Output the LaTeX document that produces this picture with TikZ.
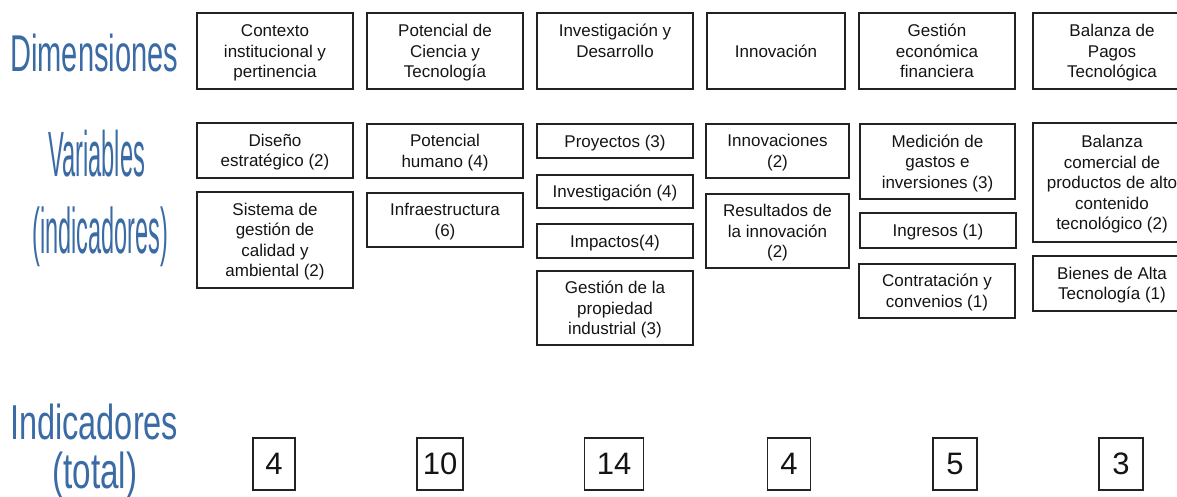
\documentclass[tikz,border=0pt]{standalone}
\usepackage{fontspec}
\setmainfont{Liberation Sans}
\usepackage{graphicx}
\definecolor{dimblue}{RGB}{58,107,165}
\definecolor{boxline}{RGB}{34,34,34}
\definecolor{boxtext}{RGB}{20,20,20}
\newcommand\cs{\rule[-4.25pt]{0pt}{20.5pt}}
\begin{document}
\begin{tikzpicture}[x=1pt,y=-1pt,
  cell/.style={draw=boxline, line width=1.3pt, inner sep=0pt, align=center,
    font=\fontsize{17}{20.5}\selectfont, text=boxtext},
  dim/.style={cell, minimum width=156pt, minimum height=76pt},
  tot/.style={draw=boxline, line width=1.3pt, inner sep=0pt, minimum height=52pt,
    font=\fontsize{31}{36}\selectfont, text=boxtext},
  lbl/.style={inner sep=0pt, text=dimblue}]
\clip (0,0) rectangle (1177,496);
% left labels
\node[lbl, anchor=south west] (ldim) at (10,72) {\resizebox*{168pt}{38pt}{Dimensiones}};
\node[lbl, anchor=south west] (lvar) at (48,177) {\resizebox*{97pt}{47pt}{Variables}};
\node[lbl, anchor=north west] (lind) at (32,207) {\resizebox*{136pt}{60pt}{(indicadores)}};
\node[lbl, anchor=south west] (ltot) at (10,440) {\resizebox*{168pt}{36pt}{Indicadores}};
\node[lbl, anchor=north west] (ltotal) at (52,452) {\resizebox*{85pt}{47pt}{(total)}};
% dimensions
\node[dim] (d1) at (275,51) {\cs Contexto\\institucional y\\pertinencia\cs};
\node[dim] (d2) at (445,51) {\cs Potencial de\\Ciencia y\\Tecnología\cs};
\node[dim] (d3) at (615,51) {\cs Investigación y\\Desarrollo\\\cs};
\node[dim, minimum width=138pt] (d4) at (776,51) {\cs Innovación\cs};
\node[dim] (d5) at (937,51) {\cs Gestión\\económica\\financiera\cs};
\node[dim, minimum width=158pt] (d6) at (1112,51) {\cs Balanza de\\Pagos\\Tecnológica\cs};
% variables
\node[cell, minimum width=156pt, minimum height=55pt] (v11) at (275,150.5) {\cs Diseño\\estratégico (2)\cs};
\node[cell, minimum width=156pt, minimum height=96pt] (v12) at (275,240) {\cs Sistema de\\gestión de\\calidad y\\ambiental (2)\cs};
\node[cell, minimum width=156pt, minimum height=54pt] (v21) at (445,151) {\cs Potencial\\humano (4)\cs};
\node[cell, minimum width=156pt, minimum height=54pt] (v22) at (445,220) {\cs Infraestructura\\(6)\cs};
\node[cell, minimum width=156pt, minimum height=34pt] (v31) at (615,141) {\cs Proyectos (3)\cs};
\node[cell, minimum width=156pt, minimum height=33pt] (v32) at (615,191.5) {\cs Investigación (4)\cs};
\node[cell, minimum width=156pt, minimum height=34pt] (v33) at (615,241) {\cs Impactos(4)\cs};
\node[cell, minimum width=156pt, minimum height=74pt] (v34) at (615,308) {\cs Gestión de la\\propiedad\\industrial (3)\cs};
\node[cell, minimum width=143pt, minimum height=54pt] (v41) at (777.5,151) {\cs Innovaciones\\(2)\cs};
\node[cell, minimum width=143pt, minimum height=74pt] (v42) at (777.5,231) {\cs Resultados de\\la innovación\\(2)\cs};
\node[cell, minimum width=155pt, minimum height=75pt] (v51) at (937.5,161.5) {\cs Medición de\\gastos e\\inversiones (3)\cs};
\node[cell, minimum width=156pt, minimum height=35pt] (v52) at (938,230.5) {\cs Ingresos (1)\cs};
\node[cell, minimum width=156pt, minimum height=54pt] (v53) at (937,291) {\cs Contratación y\\convenios (1)\cs};
\node[cell, minimum width=158pt, minimum height=119pt] (v61) at (1112,182.5) {\cs Balanza\\comercial de\\productos de alto\\contenido\\tecnológico (2)\cs};
\node[cell, minimum width=158pt, minimum height=55pt] (v62) at (1112,283.5) {\cs Bienes de Alta\\Tecnología (1)\cs};
% totals
\node[tot, minimum width=42pt] (t1) at (274,464) {4};
\node[tot, minimum width=46pt] (t2) at (440,464) {10};
\node[tot, minimum width=59pt] (t3) at (614,464) {14};
\node[tot, minimum width=43pt] (t4) at (789,464) {4};
\node[tot, minimum width=44pt] (t5) at (955,464) {5};
\node[tot, minimum width=44pt] (t6) at (1121,464) {3};
\end{tikzpicture}
\end{document}
